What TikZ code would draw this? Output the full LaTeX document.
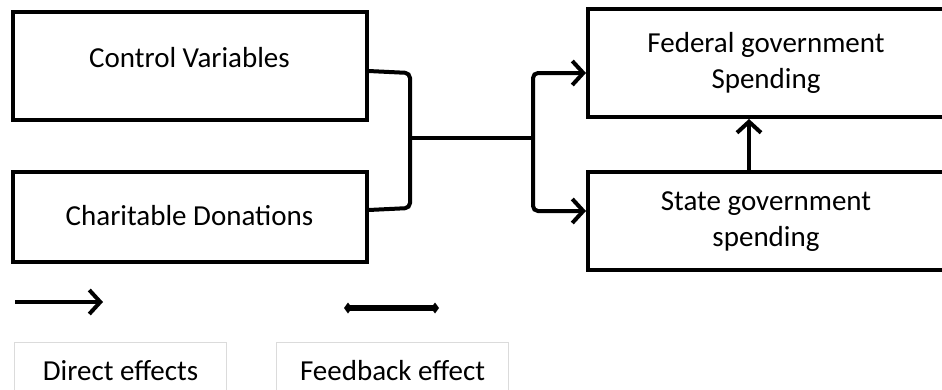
\documentclass[tikz,border=0pt]{standalone}
\usepackage{fontspec}
\setmainfont{Carlito}
\usetikzlibrary{arrows.meta}
\begin{document}
\begin{tikzpicture}[x=1pt,y=-1pt,
  box/.style={draw=black,line width=4pt,minimum width=354pt,inner sep=0pt,align=center,font=\fontsize{29}{36}\selectfont},
  legbox/.style={draw=black!14,line width=1pt,inner sep=0pt,align=center,font=\fontsize{29}{34}\selectfont},
  conn/.style={line width=4pt,rounded corners=5pt},
  tip/.style={-{Straight Barb[length=11pt,width=24pt,line width=4pt]}},
  arr/.style={conn,tip}]
\path[use as bounding box] (0,0) rectangle (942,389);
\clip (0,0) rectangle (942,389);
\node[box,minimum height=108pt] (cv) at (189.5,66) {\raisebox{17pt}{Control Variables}};
\node[box,minimum height=90pt] (cd) at (189.5,217) {\raisebox{4pt}{Charitable Donations}};
\node[box,minimum width=356pt,minimum height=108pt] (fg) at (766,63) {\raisebox{3pt}{\begin{tabular}{@{}c@{}}Federal government\\Spending\end{tabular}}};
\node[box,minimum width=356pt,minimum height=98pt] (sg) at (766,221) {\begin{tabular}{@{}c@{}}State government\\spending\end{tabular}};
\coordinate (j1) at (410,138);
\coordinate (j2) at (533,138);
\draw[conn] (cv.east |- 0,71) -- (410,73) -- (410,208) -- (cd.east |- 0,210);
\draw[conn] (j1) -- (j2);
\draw[arr] (j2) -- (533,73) -- (fg.west |- 0,73);
\draw[arr] (j2) -- (533,211) -- (sg.west |- 0,211);
\draw[arr,rounded corners=0pt] (sg.north -| 749,0) -- (fg.south -| 749,0);
% legend
\coordinate (la1) at (15,302);
\coordinate (la2) at (103,302);
\draw[line width=4pt,tip] (la1) -- (la2);
\coordinate (lb1) at (344,308);
\coordinate (lb2) at (439,308);
\draw[line width=5.5pt,{Diamond[length=8pt,width=11pt]}-{Diamond[length=8pt,width=11pt]}] (lb1) -- (lb2);
\node[legbox,minimum width=212pt,minimum height=80pt,anchor=north west] (de) at (14,342) {\raisebox{24pt}{Direct effects}};
\node[legbox,minimum width=232pt,minimum height=80pt,anchor=north west] (fe) at (276,342) {\raisebox{24pt}{Feedback effect}};
\end{tikzpicture}
\end{document}
